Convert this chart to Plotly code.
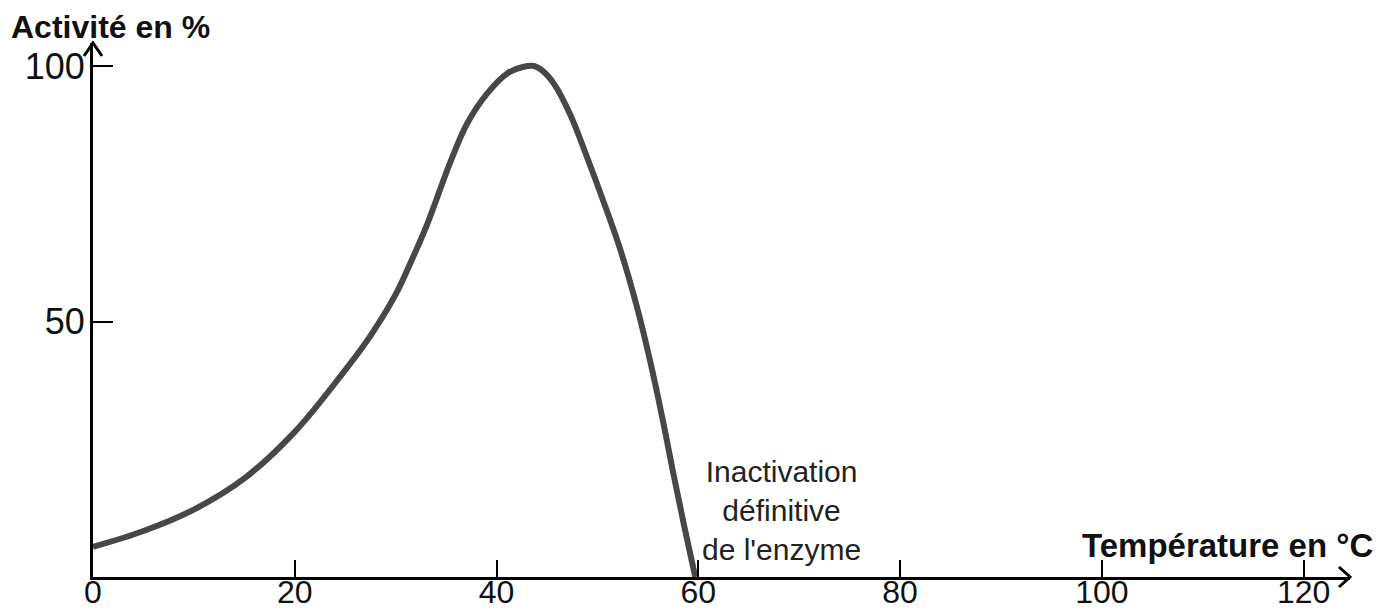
import plotly.graph_objects as go

# Data
temperature = [0, 5, 10, 15, 20, 25, 27.5, 30, 31.5, 33, 35.5, 37.1, 39.1, 41.1, 42.6,
               43.7, 44.6, 45.7, 47.3, 49.0, 50.6, 52.2, 53.9, 55.2, 56.4, 57.5, 58.6,
               59.7]
activite = [5.9, 9.0, 13.2, 19.3, 28.4, 40.5, 47.2, 55.3, 61.6, 68.4, 81.6, 88.8, 94.7,
            98.6, 99.8, 100.0, 99.0, 96.5, 90.5, 82.0, 73.5, 64.5, 53.0, 42.5, 31.5,
            20.5, 10.0, 0]
x_ticks = [0, 20, 40, 60, 80, 100, 120]
y_ticks = [50, 100]

X_MAX = 124.6
Y_MAX = 104.5

fig = go.Figure()
fig.add_trace(go.Scatter(
    x=temperature, y=activite, mode="lines",
    line=dict(color="#474747", width=6, shape="spline", smoothing=1.0),
    hoverinfo="skip", showlegend=False,
))

font_family = "Liberation Sans, Arial, sans-serif"

fig.update_layout(
    width=1389, height=614,
    margin=dict(l=93, r=39, t=43, b=37, autoexpand=False),
    paper_bgcolor="white", plot_bgcolor="white",
    font=dict(family=font_family, color="#111111"),
    xaxis=dict(
        range=[0, X_MAX], showgrid=False, zeroline=False, automargin=False,
        showline=True, linecolor="black", linewidth=3,
        tickvals=x_ticks, ticktext=[str(v) for v in x_ticks],
        ticks="inside", ticklen=17, tickwidth=2, tickcolor="black",
        ticklabelstandoff=-15,
        tickfont=dict(size=32, family=font_family, color="#111111"),
    ),
    yaxis=dict(
        range=[0, Y_MAX], showgrid=False, zeroline=False, automargin=False,
        showline=True, linecolor="black", linewidth=3,
        tickvals=y_ticks, ticktext=[str(v) for v in y_ticks],
        ticks="inside", ticklen=20, tickwidth=2, tickcolor="black",
        ticklabelstandoff=-2,
        tickfont=dict(size=36, family=font_family, color="#111111"),
    ),
    shapes=[
        # arrowhead on y axis (top)
        dict(type="path", xref="paper", yref="paper", xsizemode="pixel", ysizemode="pixel",
             xanchor=0, yanchor=1, path="M -9,-13 L 0,0 L 9,-13",
             line=dict(color="black", width=3)),
        # arrowhead on x axis (right)
        dict(type="path", xref="paper", yref="paper", xsizemode="pixel", ysizemode="pixel",
             xanchor=1, yanchor=0, path="M -11,10 L 0,0 L -11,-10",
             line=dict(color="black", width=3)),
    ],
    annotations=[
        dict(text="<b>Activité en %</b>", xref="paper", yref="paper", x=0, y=1,
             xanchor="left", yanchor="middle", xshift=-84, yshift=16,
             showarrow=False, font=dict(size=32, family=font_family, color="#111111")),
        dict(text="<b>Température en °C</b>", xref="paper", yref="paper", x=1, y=0,
             xanchor="right", yanchor="middle", xshift=25, yshift=32,
             showarrow=False, font=dict(size=33, family=font_family, color="#111111")),
        dict(text="Inactivation<br>définitive<br>de l'enzyme", xref="x", yref="y",
             x=68.2, y=13.1, xanchor="center", yanchor="middle",
             showarrow=False, align="center",
             font=dict(size=30, family=font_family, color="#222222")),
    ],
)

fig.write_html(
    "out.html",
    config={"displayModeBar": False},
    post_script="document.body.style.margin='0';document.body.style.padding='0';"
                "document.documentElement.style.overflow='hidden';",
)
